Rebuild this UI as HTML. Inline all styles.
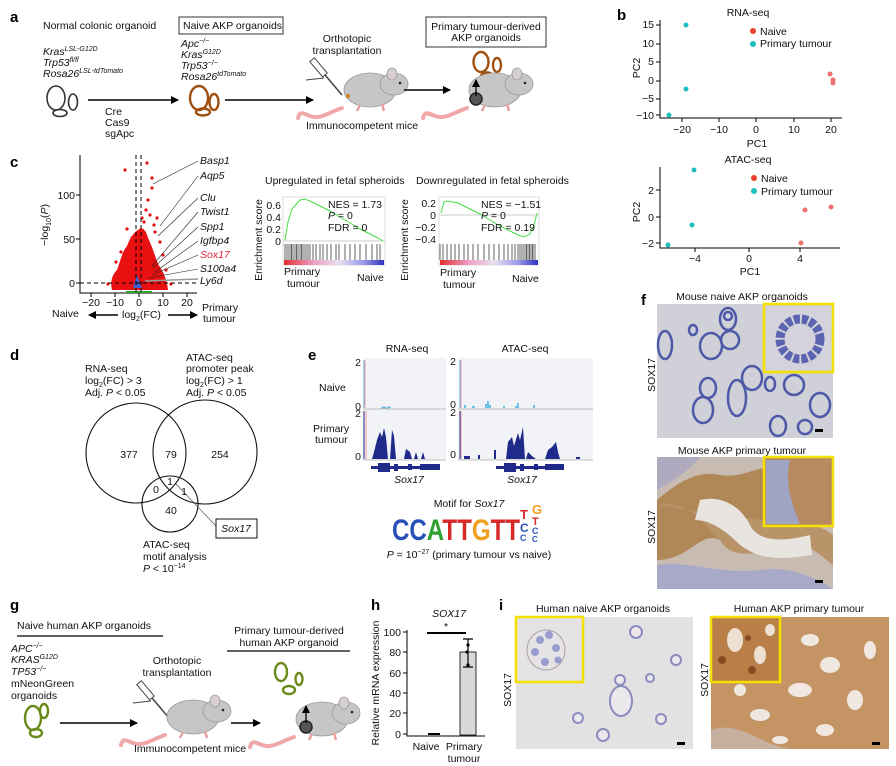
<!DOCTYPE html>
<html><head><meta charset="utf-8"><style>
html,body{margin:0;padding:0;background:#fff;}
svg{display:block;font-family:"Liberation Sans",Arial,sans-serif;}
.t{font-size:10.5px;fill:#111}
.i{font-style:italic}
.b{font-weight:bold;font-size:15px}
.s{font-size:7px}
</style></head><body>
<svg width="896" height="766" viewBox="0 0 896 766" xmlns="http://www.w3.org/2000/svg">
<defs>
<linearGradient id="cb" x1="0" x2="1"><stop offset="0" stop-color="#e03030"/><stop offset="0.3" stop-color="#f0a0c8"/><stop offset="0.55" stop-color="#e8e0f0"/><stop offset="0.8" stop-color="#9898e8"/><stop offset="1" stop-color="#3030c0"/></linearGradient>
<marker id="ar" markerWidth="8" markerHeight="8" refX="7" refY="4" orient="auto" markerUnits="userSpaceOnUse"><path d="M0,0 L8,4 L0,8 z" fill="#000"/></marker>
<g id="mouse">
<path d="M-28,18 C-40,22 -50,30 -60,26 C-66,24 -70,20 -72,28" fill="none" stroke="#f0a8a8" stroke-width="4" stroke-linecap="round"/>
<ellipse cx="0" cy="0" rx="26" ry="17" fill="#c6c6c6" stroke="#999" stroke-width="0.8"/>
<ellipse cx="24" cy="-6" rx="14" ry="11" fill="#c6c6c6" stroke="#999" stroke-width="0.8"/>
<ellipse cx="22" cy="-16" rx="5" ry="6" fill="#d8d0d0" stroke="#999" stroke-width="0.8"/>
<circle cx="30" cy="-7" r="1.3" fill="#222"/>
<path d="M-10,15 l-3,6 M12,14 l2,7" stroke="#e8a0a0" stroke-width="2.5"/>
</g>
<g id="syr"><line x1="0" y1="0" x2="28" y2="33" stroke="#444" stroke-width="1.5"/><rect x="-3" y="-3" width="6" height="20" transform="rotate(-40)" fill="#fff" stroke="#444"/><line x1="-8" y1="18" x2="10" y2="16" stroke="#444"/></g>
</defs>

<!-- ===== a ===== -->
<text x="10" y="22" class="b">a</text>
<text x="43" y="29" class="t">Normal colonic organoid</text>
<text x="43" y="55" class="t i">Kras<tspan class="s" dy="-4">LSL-G12D</tspan></text>
<text x="43" y="66" class="t i">Trp53<tspan class="s" dy="-4">fl/fl</tspan></text>
<text x="43" y="77" class="t i">Rosa26<tspan class="s" dy="-4">LSL-tdTomato</tspan></text>
<g fill="none" stroke="#333" stroke-width="1.6"><ellipse cx="56" cy="98" rx="9" ry="12"/><ellipse cx="73" cy="102" rx="4.5" ry="8"/><ellipse cx="60" cy="113" rx="7" ry="3.5"/></g>
<line x1="88" y1="100" x2="178" y2="100" stroke="#000" stroke-width="1.5" marker-end="url(#ar)"/>
<text x="105" y="115" class="t">Cre</text><text x="105" y="126" class="t">Cas9</text><text x="105" y="137" class="t">sgApc</text>
<rect x="179" y="17" width="104" height="17" fill="none" stroke="#333"/>
<text x="183" y="29" class="t">Naive AKP organoids</text>
<text x="181" y="47" class="t i">Apc<tspan class="s" dy="-4">−/−</tspan></text>
<text x="181" y="58" class="t i">Kras<tspan class="s" dy="-4">G12D</tspan></text>
<text x="181" y="69" class="t i">Trp53<tspan class="s" dy="-4">−/−</tspan></text>
<text x="181" y="80" class="t i">Rosa26<tspan class="s" dy="-4">tdTomato</tspan></text>
<g fill="none" stroke="#a0500f" stroke-width="2.4"><ellipse cx="199" cy="98" rx="9" ry="12"/><ellipse cx="214" cy="102" rx="4.5" ry="8"/><ellipse cx="203" cy="112" rx="7" ry="3.5"/></g>
<line x1="225" y1="100" x2="313" y2="100" stroke="#000" stroke-width="1.5" marker-end="url(#ar)"/>
<text x="347" y="42" class="t" text-anchor="middle">Orthotopic</text>
<text x="347" y="54" class="t" text-anchor="middle">transplantation</text>
<use href="#syr" x="314" y="62"/>
<use href="#mouse" x="370" y="90"/>
<circle cx="348" cy="96" r="2" fill="#d08020"/>
<text x="306" y="129" class="t">Immunocompetent mice</text>
<line x1="404" y1="90" x2="450" y2="90" stroke="#000" stroke-width="1.5" marker-end="url(#ar)"/>
<rect x="426" y="17" width="120" height="30" fill="none" stroke="#333"/>
<text x="486" y="30" class="t" text-anchor="middle">Primary tumour-derived</text>
<text x="486" y="41" class="t" text-anchor="middle">AKP organoids</text>
<g fill="none" stroke="#a0500f" stroke-width="2.4"><ellipse cx="481" cy="62" rx="7.5" ry="10"/><ellipse cx="497" cy="65" rx="4" ry="7"/><ellipse cx="487" cy="76" rx="6" ry="3.5"/></g>
<use href="#mouse" x="495" y="90"/>
<circle cx="476" cy="99" r="6" fill="#555" stroke="#222" stroke-width="1.5"/>
<line x1="476" y1="96" x2="476" y2="80" stroke="#000" stroke-width="1.3" marker-end="url(#ar)"/>

<!-- ===== b ===== -->
<text x="617" y="20" class="b">b</text>
<text x="748" y="16" class="t" text-anchor="middle">RNA-seq</text>
<g stroke="#000" stroke-width="1" fill="none"><path d="M660,20 V118 H842"/>
<path d="M656,25h4M656,44h4M656,62h4M656,81h4M656,99h4M656,115h4M682,118v4M719,118v4M756,118v4M794,118v4M831,118v4"/></g>
<g class="t" text-anchor="end" font-size="10"><text x="654" y="28">15</text><text x="654" y="47">10</text><text x="654" y="65">5</text><text x="654" y="84">0</text><text x="654" y="102">−5</text><text x="654" y="119">−10</text></g>
<g class="t" text-anchor="middle"><text x="682" y="133">−20</text><text x="719" y="133">−10</text><text x="756" y="133">0</text><text x="794" y="133">10</text><text x="831" y="133">20</text><text x="757" y="147">PC1</text></g>
<text transform="translate(640,68) rotate(-90)" class="t" text-anchor="middle">PC2</text>
<g fill="#1fbfbf"><circle cx="686" cy="25" r="2.5"/><circle cx="686" cy="89" r="2.5"/><circle cx="669" cy="115" r="2.5"/><circle cx="753" cy="44" r="3"/></g>
<g fill="#f07070"><circle cx="830" cy="74" r="2.5"/><circle cx="833" cy="80" r="2.5"/><circle cx="833" cy="83" r="2.5"/></g>
<circle cx="753" cy="31" r="3" fill="#e8402a"/>
<text x="760" y="35" class="t">Naive</text><text x="760" y="47" class="t">Primary tumour</text>

<text x="748" y="163" class="t" text-anchor="middle">ATAC-seq</text>
<g stroke="#000" stroke-width="1" fill="none"><path d="M660,167 V248 H840"/>
<path d="M656,190h4M656,217h4M656,243h4M695,248v4M749,248v4M800,248v4"/></g>
<g class="t" text-anchor="end"><text x="654" y="194">2</text><text x="654" y="221">0</text><text x="654" y="247">−2</text></g>
<g class="t" text-anchor="middle"><text x="695" y="262">−4</text><text x="749" y="262">0</text><text x="800" y="262">4</text><text x="750" y="275">PC1</text></g>
<text transform="translate(640,212) rotate(-90)" class="t" text-anchor="middle">PC2</text>
<g fill="#1fbfbf"><circle cx="694" cy="170" r="2.5"/><circle cx="692" cy="225" r="2.5"/><circle cx="668" cy="245" r="2.5"/><circle cx="754" cy="191" r="3"/></g>
<g fill="#f07070"><circle cx="805" cy="210" r="2.5"/><circle cx="831" cy="207" r="2.5"/><circle cx="801" cy="243" r="2.5"/></g>
<circle cx="754" cy="178" r="3" fill="#e8402a"/>
<text x="761" y="182" class="t">Naive</text><text x="761" y="195" class="t">Primary tumour</text>

<!-- ===== c ===== -->
<text x="10" y="167" class="b">c</text>
<g stroke="#000" stroke-width="1" fill="none"><path d="M80,155 V293 H197"/>
<path d="M76,283h4M76,239h4M76,195h4M91,293v4M115,293v4M139,293v4M163,293v4M187,293v4"/></g>
<g class="t" text-anchor="end"><text x="75" y="287">0</text><text x="75" y="243">50</text><text x="75" y="199">100</text></g>
<g class="t" text-anchor="middle" font-size="10"><text x="91" y="306">−20</text><text x="115" y="306">−10</text><text x="139" y="306">0</text><text x="163" y="306">10</text><text x="187" y="306">20</text></g>
<text transform="translate(48,225) rotate(-90)" class="t" text-anchor="middle">−log<tspan class="s" dy="3">10</tspan><tspan dy="-3">(</tspan><tspan class="i">P</tspan>)</text>
<path d="M112,290 C110,282 112,275 117,270 C120,262 122,252 127,246 C130,238 134,232 138,230 C142,226 146,230 148,238 C152,246 155,256 158,264 C162,270 167,278 168,290 Z" fill="#e81010"/>
<g fill="#e81010">
<circle cx="125" cy="170" r="1.6"/><circle cx="147" cy="163" r="1.6"/><circle cx="152" cy="178" r="1.6"/><circle cx="152" cy="188" r="1.6"/><circle cx="148" cy="200" r="1.6"/><circle cx="157" cy="218" r="1.6"/><circle cx="154" cy="225" r="1.6"/><circle cx="160" cy="242" r="1.6"/><circle cx="127" cy="229" r="1.6"/><circle cx="146" cy="210" r="1.6"/><circle cx="144" cy="222" r="1.6"/><circle cx="155" cy="232" r="1.6"/><circle cx="171" cy="284" r="1.6"/><circle cx="108" cy="284" r="1.6"/><circle cx="163" cy="255" r="1.6"/><circle cx="121" cy="252" r="1.6"/><circle cx="150" cy="215" r="1.6"/><circle cx="142" cy="218" r="1.6"/><circle cx="132" cy="238" r="1.6"/><circle cx="116" cy="262" r="1.6"/><circle cx="166" cy="270" r="1.6"/></g>
<path d="M133,288 L137,275 L142,288 Z" fill="#4060d0"/>
<path d="M126,292 H152" stroke="#30a030" stroke-width="2"/>
<g stroke="#000" stroke-dasharray="4,3" stroke-width="1"><line x1="136" y1="155" x2="136" y2="292"/><line x1="141" y1="155" x2="141" y2="292"/><line x1="80" y1="283" x2="197" y2="283"/></g>
<g stroke="#222" stroke-width="0.6">
<line x1="198" y1="161" x2="153" y2="184"/><line x1="198" y1="176" x2="160" y2="226"/><line x1="198" y1="198" x2="158" y2="236"/><line x1="198" y1="212" x2="152" y2="266"/><line x1="198" y1="227" x2="153" y2="268"/><line x1="198" y1="241" x2="155" y2="272"/><line x1="198" y1="255" x2="152" y2="275"/><line x1="198" y1="269" x2="148" y2="278"/><line x1="198" y1="279" x2="145" y2="281" stroke="#999" stroke-width="1.5"/></g>
<g class="t i"><text x="200" y="164">Basp1</text><text x="200" y="179">Aqp5</text><text x="200" y="201">Clu</text><text x="200" y="215">Twist1</text><text x="200" y="230">Spp1</text><text x="200" y="244">Igfbp4</text><text x="200" y="258" fill="#e0203a">Sox17</text><text x="200" y="272">S100a4</text><text x="200" y="284">Ly6d</text></g>
<text x="52" y="317" class="t" fill="#2a3aa0">Naive</text>
<line x1="118" y1="315" x2="89" y2="315" stroke="#000" stroke-width="1.5" marker-end="url(#ar)"/>
<text x="122" y="318" class="t">log<tspan class="s" dy="3">2</tspan><tspan dy="-3">(FC)</tspan></text>
<line x1="168" y1="315" x2="197" y2="315" stroke="#000" stroke-width="1.5" marker-end="url(#ar)"/>
<text x="202" y="311" class="t" fill="#e0203a">Primary</text><text x="203" y="322" class="t" fill="#e0203a">tumour</text>

<!-- GSEA -->
<text x="265" y="184" class="t">Upregulated in fetal spheroids</text>
<text x="416" y="184" class="t">Downregulated in fetal spheroids</text>
<g>
<rect x="283" y="197" width="102" height="68" fill="#fff" stroke="#ddd"/>
<line x1="283" y1="241" x2="385" y2="241" stroke="#ccc"/>
<polyline points="285,240 288,222 292,209 300,200 305,199 312,202 320,206 330,211 340,217 350,223 360,229 370,234 378,238 383,241" fill="none" stroke="#44e044" stroke-width="1"/>
<g stroke="#222" stroke-width="0.7"><path d="M285,244v16M287,244v16M289,244v16M291,244v16M292,244v16M294,244v16M296,244v16M297,244v16M299,244v16M301,244v16M302,244v16M304,244v16M306,244v16M308,244v16M310,244v16M313,244v16M316,244v16M320,244v16M323,244v16M327,244v16M331,244v16M336,244v16M339,244v16M345,244v16M350,244v16M355,244v16M360,244v16M366,244v16M372,244v16M377,244v16M380,244v16"/></g>
<rect x="284" y="260" width="100" height="5" fill="url(#cb)"/>
<g class="t" text-anchor="end"><text x="281" y="209">0.6</text><text x="281" y="221">0.4</text><text x="281" y="233">0.2</text><text x="281" y="245">0</text></g>
<text transform="translate(262,240) rotate(-90)" class="t" text-anchor="middle">Enrichment score</text>
<text x="328" y="208" class="t">NES = 1.73</text><text x="328" y="219" class="t"><tspan class="i">P</tspan> = 0</text><text x="328" y="231" class="t">FDR = 0</text>
<text x="284" y="275" class="t">Primary</text><text x="287" y="287" class="t">tumour</text><text x="357" y="281" class="t">Naive</text>
</g>
<g>
<rect x="439" y="197" width="100" height="68" fill="#fff" stroke="#ddd"/>
<line x1="439" y1="215" x2="539" y2="215" stroke="#ccc"/>
<polyline points="441,213 444,202 448,201 458,203 470,209 480,214 490,220 500,226 510,231 518,235 524,237 530,234 534,225 537,213" fill="none" stroke="#44e044" stroke-width="1"/>
<g stroke="#222" stroke-width="0.7"><path d="M440,244v16M443,244v16M447,244v16M451,244v16M455,244v16M459,244v16M464,244v16M468,244v16M473,244v16M478,244v16M484,244v16M489,244v16M494,244v16M499,244v16M504,244v16M508,244v16M512,244v16M515,244v16M518,244v16M520,244v16M522,244v16M524,244v16M526,244v16M527,244v16M529,244v16M530,244v16M532,244v16M533,244v16M535,244v16"/></g>
<rect x="440" y="260" width="98" height="5" fill="url(#cb)"/>
<g class="t" text-anchor="end"><text x="436" y="207">0.2</text><text x="436" y="219">0</text><text x="436" y="231">−0.2</text><text x="436" y="243">−0.4</text></g>
<text transform="translate(408,240) rotate(-90)" class="t" text-anchor="middle">Enrichment score</text>
<text x="481" y="208" class="t">NES = −1.51</text><text x="481" y="219" class="t"><tspan class="i">P</tspan> = 0</text><text x="481" y="231" class="t">FDR = 0.19</text>
<text x="440" y="276" class="t">Primary</text><text x="443" y="288" class="t">tumour</text><text x="512" y="282" class="t">Naive</text>
</g>

<!-- ===== d ===== -->
<text x="10" y="360" class="b">d</text>
<text x="85" y="372" class="t">RNA-seq</text>
<text x="85" y="384" class="t">log<tspan class="s" dy="3">2</tspan><tspan dy="-3">(FC) &gt; 3</tspan></text>
<text x="85" y="396" class="t">Adj. <tspan class="i">P</tspan> &lt; 0.05</text>
<text x="186" y="361" class="t">ATAC-seq</text>
<text x="186" y="372" class="t">promoter peak</text>
<text x="186" y="384" class="t">log<tspan class="s" dy="3">2</tspan><tspan dy="-3">(FC) &gt; 1</tspan></text>
<text x="186" y="396" class="t">Adj. <tspan class="i">P</tspan> &lt; 0.05</text>
<g fill="none" stroke="#111" stroke-width="1.1"><circle cx="136" cy="453" r="50"/><circle cx="205" cy="452" r="52"/><circle cx="170" cy="504" r="28"/></g>
<line x1="176" y1="484" x2="216" y2="526" stroke="#555" stroke-width="0.7"/>
<g class="t" text-anchor="middle"><text x="129" y="458">377</text><text x="171" y="458">79</text><text x="220" y="458">254</text><text x="156" y="493">0</text><text x="170" y="485">1</text><text x="184" y="495">1</text><text x="171" y="514">40</text></g>
<rect x="216" y="519" width="41" height="19" fill="#fff" stroke="#111"/>
<text x="236" y="532" class="t i" text-anchor="middle" fill="#e0203a">Sox17</text>
<text x="143" y="548" class="t">ATAC-seq</text><text x="143" y="560" class="t">motif analysis</text>
<text x="143" y="572" class="t"><tspan class="i">P</tspan> &lt; 10<tspan class="s" dy="-4">−14</tspan></text>

<!-- ===== e ===== -->
<text x="308" y="360" class="b">e</text>
<text x="407" y="352" class="t" text-anchor="middle">RNA-seq</text>
<text x="525" y="352" class="t" text-anchor="middle">ATAC-seq</text>
<rect x="363" y="358" width="83" height="102" fill="#f2f3f7"/>
<rect x="458" y="358" width="135" height="102" fill="#f2f3f7"/>
<g stroke="#aaa" stroke-width="0.8"><line x1="363" y1="409" x2="446" y2="409"/><line x1="458" y1="409" x2="593" y2="409"/><line x1="363" y1="460" x2="446" y2="460"/><line x1="458" y1="460" x2="593" y2="460"/></g>
<g stroke-width="1"><line x1="364" y1="360" x2="364" y2="408" stroke="#60b0e0"/><line x1="365" y1="360" x2="365" y2="408" stroke="#f0a0a0"/>
<line x1="460" y1="360" x2="460" y2="408" stroke="#60b0e0"/><line x1="461" y1="360" x2="461" y2="408" stroke="#f0a0a0"/>
<line x1="364" y1="411" x2="364" y2="459" stroke="#202a8a"/><line x1="366" y1="411" x2="366" y2="459" stroke="#f0a0a0"/>
<line x1="460" y1="411" x2="460" y2="459" stroke="#202a8a"/><line x1="461" y1="411" x2="461" y2="459" stroke="#f0a0a0"/></g>
<g class="t" font-size="10" text-anchor="end"><text x="361" y="366">2</text><text x="361" y="410">0</text><text x="361" y="417">2</text><text x="361" y="460">0</text>
<text x="456" y="365">2</text><text x="456" y="408">0</text><text x="456" y="416">2</text><text x="456" y="458">0</text></g>
<text x="319" y="391" class="t">Naive</text><text x="313" y="432" class="t">Primary</text><text x="315" y="443" class="t">tumour</text>
<path d="M381,408h2v-1h2v1h3v-1h2v1" fill="#60b0e0" stroke="#60b0e0"/>
<path d="M464,408v-3h2v3 h6v-2h3v2h10v-4h2v-3h2v4h2v3h12v-2h2v2h10v-2h2v-3h2v5h14v-3h2v3z" fill="#70c0e8"/>
<path d="M372,459 L374,452 L377,440 L380,432 L382,437 L384,428 L386,437 L388,459 Z M390,459 L392,430 L394,436 L396,459 Z M404,459 L406,449 L410,452 L412,459Z M414,459 L416,452 L418,459Z M421,459 L423,452 L425,459 Z" fill="#202a8a"/>
<path d="M464,459 v-3 h6 v3 h8 v-4 h2 v4 h14 v-9 h2 v9 h10 L508,442 L512,437 L514,446 L518,433 L520,440 L523,427 L525,459 Z M526,459 L528,452 L532,456 L536,459Z M545,459 L548,450 L552,447 L556,442 L558,452 L560,459Z M566,459 h10 v-2 h4 v2 z" fill="#202a8a"/>
<g fill="#202a8a"><rect x="371" y="466" width="69" height="3"/><rect x="378" y="463" width="12" height="9"/><rect x="394" y="464" width="4" height="7"/><rect x="408" y="464" width="4" height="6"/><rect x="420" y="464" width="20" height="6"/>
<rect x="496" y="466" width="68" height="3"/><rect x="504" y="463" width="12" height="9"/><rect x="520" y="464" width="4" height="7"/><rect x="534" y="464" width="4" height="6"/><rect x="545" y="464" width="19" height="6"/></g>
<text x="409" y="483" class="t i" text-anchor="middle">Sox17</text>
<text x="522" y="483" class="t i" text-anchor="middle">Sox17</text>
<text x="469" y="507" class="t" text-anchor="middle">Motif for <tspan class="i">Sox17</tspan></text>
<g font-weight="bold" font-size="30" font-family="Liberation Sans Narrow,Liberation Sans,sans-serif">
<text x="392" y="540" textLength="128" lengthAdjust="spacingAndGlyphs"><tspan fill="#2850b8">CC</tspan><tspan fill="#30a030">A</tspan><tspan fill="#d82828">TT</tspan><tspan fill="#f0a020">G</tspan><tspan fill="#d82828">TT</tspan></text>
</g>
<g font-weight="bold" font-family="Liberation Sans,sans-serif">
<text x="520" y="519" font-size="13" fill="#d82828">T</text><text x="520" y="532" font-size="12" fill="#2850b8">C</text><text x="520" y="541" font-size="9" fill="#2850b8">C</text>
<text x="532" y="514" font-size="13" fill="#f0a020">G</text><text x="532" y="525" font-size="11" fill="#d82828">T</text><text x="532" y="534" font-size="9" fill="#2850b8">C</text><text x="532" y="542" font-size="8" fill="#2850b8">C</text></g>
<text x="469" y="558" class="t" text-anchor="middle"><tspan class="i">P</tspan> = 10<tspan class="s" dy="-4">−27</tspan><tspan dy="4"> (primary tumour vs naive)</tspan></text>

<!-- ===== f ===== -->
<text x="641" y="305" class="b">f</text>
<text x="742" y="300" class="t" text-anchor="middle">Mouse naive AKP organoids</text>
<rect x="657" y="304" width="176" height="134" fill="#cfd0d8"/>
<g fill="none" stroke="#4d58a8" stroke-width="2.5">
<ellipse cx="665" cy="345" rx="7" ry="14"/><ellipse cx="711" cy="346" rx="11" ry="13"/><ellipse cx="693" cy="330" rx="4" ry="5"/><ellipse cx="728" cy="319" rx="8" ry="11"/><ellipse cx="730" cy="340" rx="9" ry="9"/><ellipse cx="728" cy="316" rx="4" ry="4"/>
<ellipse cx="708" cy="388" rx="8" ry="10"/><ellipse cx="703" cy="410" rx="10" ry="13"/><ellipse cx="737" cy="398" rx="9" ry="18"/><ellipse cx="752" cy="378" rx="10" ry="12"/><ellipse cx="770" cy="384" rx="5" ry="7"/><ellipse cx="794" cy="385" rx="10" ry="10"/><ellipse cx="820" cy="405" rx="10" ry="12"/><ellipse cx="778" cy="426" rx="8" ry="10"/><ellipse cx="805" cy="427" rx="7" ry="7"/></g>
<rect x="764" y="304" width="69" height="68" fill="#d4d3dc" stroke="#f5e000" stroke-width="2.5"/>
<ellipse cx="800" cy="339" rx="20" ry="20" fill="none" stroke="#5a64b0" stroke-width="9" stroke-dasharray="6,2"/>
<rect x="815" y="429" width="8" height="3" fill="#000"/>
<text transform="translate(655,375) rotate(-90)" class="t" fill="#b07040" text-anchor="middle">SOX17</text>
<text x="742" y="454" class="t" text-anchor="middle">Mouse AKP primary tumour</text>
<rect x="657" y="457" width="176" height="132" fill="#c8bcb2"/>
<path d="M657,500 C680,480 700,470 720,475 C740,478 750,470 765,468 L765,520 C745,530 735,545 720,540 C700,530 690,560 657,560 Z" fill="#b08858"/>
<path d="M657,505 C690,500 700,520 720,540 C730,560 760,555 790,545 C805,540 820,555 833,565 L833,535 C815,520 790,525 760,520" fill="#b89468"/>
<path d="M700,500 C720,495 740,505 750,525 C760,545 790,540 810,535 L812,555 C780,560 760,560 740,545 C725,530 710,520 695,520 Z" fill="#e8e4e0"/>
<path d="M657,565 C690,560 720,575 760,570 C790,565 820,580 833,589 L657,589Z" fill="#a8a8c8"/>
<path d="M657,457 L700,457 C690,470 675,480 657,490Z" fill="#b0aac0"/>
<rect x="764" y="457" width="69" height="69" fill="#b88a60" stroke="#f5e000" stroke-width="2.5"/>
<path d="M766,460 L790,460 C785,480 790,500 800,524 L766,524Z" fill="#a0a4c4"/>
<rect x="815" y="580" width="8" height="3" fill="#000"/>
<text transform="translate(655,527) rotate(-90)" class="t" fill="#b07040" text-anchor="middle">SOX17</text>

<!-- ===== g ===== -->
<text x="10" y="610" class="b">g</text>
<text x="17" y="629" class="t">Naive human AKP organoids</text>
<line x1="17" y1="636" x2="163" y2="636" stroke="#000" stroke-width="1.3"/>
<text x="11" y="652" class="t i">APC<tspan class="s" dy="-4">−/−</tspan></text>
<text x="11" y="663" class="t i">KRAS<tspan class="s" dy="-4">G12D</tspan></text>
<text x="11" y="675" class="t i">TP53<tspan class="s" dy="-4">−/−</tspan></text>
<text x="11" y="687" class="t">mNeonGreen</text><text x="11" y="699" class="t">organoids</text>
<g fill="none" stroke="#6a8a1a" stroke-width="2.4"><ellipse cx="33" cy="718" rx="8" ry="12"/><ellipse cx="44" cy="711" rx="4" ry="7"/><ellipse cx="36" cy="733" rx="6" ry="4"/></g>
<line x1="60" y1="723" x2="137" y2="723" stroke="#000" stroke-width="1.5" marker-end="url(#ar)"/>
<text x="177" y="664" class="t" text-anchor="middle">Orthotopic</text><text x="177" y="676" class="t" text-anchor="middle">transplantation</text>
<use href="#syr" x="141" y="685"/>
<use href="#mouse" x="193" y="717"/>
<text x="134" y="752" class="t">Immunocompetent mice</text>
<line x1="231" y1="723" x2="260" y2="723" stroke="#000" stroke-width="1.5" marker-end="url(#ar)"/>
<text x="289" y="634" class="t" text-anchor="middle">Primary tumour-derived</text>
<text x="289" y="646" class="t" text-anchor="middle">human AKP organoid</text>
<line x1="227" y1="651" x2="350" y2="651" stroke="#000" stroke-width="1.3"/>
<g fill="none" stroke="#6a8a1a" stroke-width="2.4"><ellipse cx="281" cy="672" rx="6" ry="9"/><ellipse cx="299" cy="679" rx="3.5" ry="6"/><ellipse cx="289" cy="690" rx="6" ry="4"/></g>
<use href="#mouse" x="322" y="719"/>
<circle cx="306" cy="727" r="6" fill="#555" stroke="#222" stroke-width="1.5"/>
<line x1="306" y1="723" x2="306" y2="706" stroke="#000" stroke-width="1.3" marker-end="url(#ar)"/>

<!-- ===== h ===== -->
<text x="371" y="610" class="b">h</text>
<text x="449" y="617" class="t i" text-anchor="middle">SOX17</text>
<g stroke="#000" stroke-width="1" fill="none"><path d="M407,630 V736 H485"/><path d="M403,632h4M403,652h4M403,673h4M403,693h4M403,713h4M403,734h4"/></g>
<g class="t" text-anchor="end"><text x="401" y="636">100</text><text x="401" y="656">80</text><text x="401" y="677">60</text><text x="401" y="697">40</text><text x="401" y="717">20</text><text x="401" y="738">0</text></g>
<text transform="translate(379,683) rotate(-90)" class="t" text-anchor="middle">Relative mRNA expression</text>
<rect x="460" y="652" width="16" height="83" fill="#d8d8d8" stroke="#000" stroke-width="0.8"/>
<path d="M468,639v28M463,639h10M463,667h10" stroke="#000" stroke-width="1.2"/>
<g fill="#000"><circle cx="468" cy="645" r="1.6"/><circle cx="468" cy="665" r="1.6"/><circle cx="467" cy="652" r="1.6"/></g>
<path d="M428,734h12" stroke="#000" stroke-width="2"/>
<line x1="427" y1="633" x2="466" y2="633" stroke="#000" stroke-width="2"/>
<text x="446" y="630" class="t" text-anchor="middle">*</text>
<text x="426" y="750" class="t" text-anchor="middle">Naive</text>
<text x="464" y="750" class="t" text-anchor="middle">Primary</text><text x="464" y="762" class="t" text-anchor="middle">tumour</text>

<!-- ===== i ===== -->
<text x="499" y="610" class="b">i</text>
<text x="603" y="612" class="t" text-anchor="middle">Human naive AKP organoids</text>
<rect x="516" y="617" width="177" height="132" fill="#e2e2e2"/>
<g fill="#ebe8ec" stroke="#8a8cc0" stroke-width="2"><circle cx="636" cy="632" r="6"/><circle cx="676" cy="660" r="5"/><circle cx="620" cy="680" r="5"/><ellipse cx="621" cy="701" rx="11" ry="15"/><circle cx="603" cy="735" r="6"/><circle cx="661" cy="719" r="5"/><circle cx="650" cy="678" r="4"/><circle cx="578" cy="718" r="5"/></g>
<rect x="516" y="617" width="67" height="65" fill="#e6e3e6" stroke="#f5e000" stroke-width="2.5"/>
<g fill="#9a9cd0"><circle cx="540" cy="640" r="4"/><circle cx="549" cy="635" r="4"/><circle cx="535" cy="652" r="4"/><circle cx="556" cy="648" r="4"/><circle cx="545" cy="662" r="4"/><circle cx="558" cy="660" r="3.5"/></g>
<ellipse cx="546" cy="650" rx="19" ry="20" fill="none" stroke="#a8a0a8" stroke-width="1"/>
<rect x="677" y="742" width="8" height="3" fill="#000"/>
<text transform="translate(511,690) rotate(-90)" class="t" fill="#9a8a7a" text-anchor="middle">SOX17</text>
<text x="799" y="612" class="t" text-anchor="middle">Human AKP primary tumour</text>
<rect x="711" y="617" width="178" height="132" fill="#c49464"/>
<g fill="#f0e8e0"><ellipse cx="810" cy="640" rx="9" ry="6"/><ellipse cx="830" cy="665" rx="10" ry="8"/><ellipse cx="800" cy="690" rx="12" ry="7"/><ellipse cx="855" cy="700" rx="8" ry="10"/><ellipse cx="760" cy="715" rx="10" ry="6"/><ellipse cx="870" cy="650" rx="6" ry="9"/><ellipse cx="825" cy="730" rx="9" ry="6"/><ellipse cx="740" cy="690" rx="6" ry="6"/><ellipse cx="780" cy="740" rx="8" ry="4"/></g>
<path d="M711,730 C740,720 760,745 790,749 L711,749Z" fill="#c8b0a0"/>
<rect x="711" y="617" width="69" height="65" fill="#b88048" stroke="#f5e000" stroke-width="2.5"/>
<g fill="#eee0d0"><ellipse cx="735" cy="640" rx="8" ry="12"/><ellipse cx="760" cy="655" rx="6" ry="9"/><ellipse cx="770" cy="630" rx="5" ry="6"/></g>
<g fill="#8a4a20"><circle cx="722" cy="660" r="4"/><circle cx="748" cy="638" r="3"/><circle cx="752" cy="670" r="4"/></g>
<rect x="872" y="742" width="8" height="3" fill="#000"/>
<text transform="translate(708,680) rotate(-90)" class="t" fill="#9a8a7a" text-anchor="middle">SOX17</text>
</svg>
</body></html>
